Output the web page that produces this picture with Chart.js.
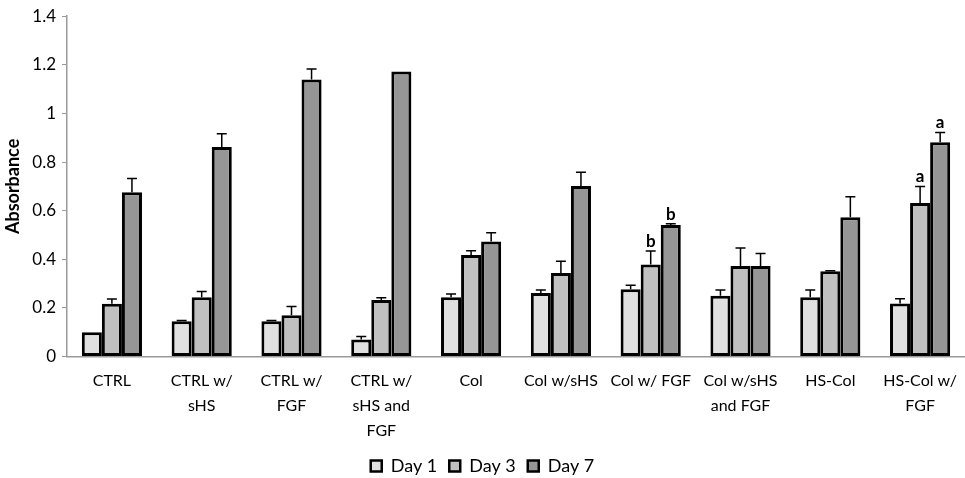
<!DOCTYPE html>
<html>
<head>
<meta charset="utf-8">
<script src="https://cdn.jsdelivr.net/npm/chart.js@4/dist/chart.umd.min.js"></script>
<style>
  html, body { margin: 0; padding: 0; background: #fff; }
  #wrap { width: 965px; height: 478px; position: relative; }
</style>
</head>
<body>
<div id="wrap"><canvas id="chart"></canvas></div>
<script>
const categories = [
    ['CTRL'], ['CTRL w/', 'sHS'], ['CTRL w/', 'FGF'], ['CTRL w/', 'sHS and', 'FGF'],
    ['Col'], ['Col w/sHS'], ['Col w/ FGF'], ['Col w/sHS', 'and FGF'], ['HS-Col'], ['HS-Col w/', 'FGF']
];
const day1 = [0.100, 0.145, 0.145, 0.070, 0.244, 0.262, 0.277, 0.250, 0.244, 0.218];
const day3 = [0.217, 0.244, 0.170, 0.233, 0.418, 0.344, 0.379, 0.373, 0.351, 0.632];
const day7 = [0.676, 0.862, 1.140, 1.173, 0.473, 0.702, 0.541, 0.373, 0.573, 0.882];
const err1 = [0.000, 0.003, 0.003, 0.013, 0.013, 0.012, 0.016, 0.024, 0.030, 0.020];
const err3 = [0.020, 0.024, 0.036, 0.009, 0.017, 0.048, 0.055, 0.074, 0.002, 0.068];
const err7 = [0.056, 0.055, 0.043, 0.000, 0.036, 0.056, 0.005, 0.051, 0.084, 0.040];
const mark3 = ['', '', '', '', '', '', 'b', '', '', 'a'];
const mark7 = ['', '', '', '', '', '', 'b', '', '', 'a'];
const yTicks = [0, 0.2, 0.4, 0.6, 0.8, 1, 1.2, 1.4];

const errors = [err1, err3, err7];
const marks = [null, mark3, mark7];

// error bars (upper only) and significance letters
const errorBars = {
    id: 'errorBars',
    afterDatasetsDraw(chart) {
        const ctx = chart.ctx;
        const y = chart.scales.y;
        ctx.save();
        chart.data.datasets.forEach((ds, di) => {
            const meta = chart.getDatasetMeta(di);
            meta.data.forEach((bar, i) => {
                const top = y.getPixelForValue(ds.data[i] + errors[di][i]);
                if (errors[di][i] > 0) {
                    ctx.strokeStyle = '#000';
                    ctx.lineWidth = 1.5;
                    ctx.beginPath();
                    ctx.moveTo(bar.x, bar.y);
                    ctx.lineTo(bar.x, top);
                    ctx.moveTo(bar.x - 5, top);
                    ctx.lineTo(bar.x + 5, top);
                    ctx.stroke();
                }
                if (marks[di] && marks[di][i]) {
                    ctx.fillStyle = '#000';
                    ctx.font = 'bold 17px Lato';
                    ctx.textAlign = 'center';
                    ctx.textBaseline = 'bottom';
                    ctx.fillText(marks[di][i], bar.x, top - 1);
                }
            });
        });
        ctx.restore();
    }
};

const barStyle = { borderColor: '#000', borderWidth: 3, borderSkipped: false };

new Chart(document.getElementById('chart'), {
    type: 'bar',
    data: {
        labels: categories,
        datasets: [
            { label: 'Day 1', data: day1, backgroundColor: '#e0e0e0', ...barStyle },
            { label: 'Day 3', data: day3, backgroundColor: '#c0c0c0', ...barStyle },
            { label: 'Day 7', data: day7, backgroundColor: '#969696', ...barStyle }
        ]
    },
    options: {
        responsive: true,
        maintainAspectRatio: false,
        animation: false,
        categoryPercentage: 0.67,
        barPercentage: 1.0,
        layout: { padding: { top: 7, right: 0, bottom: -7, left: 0 } },
        plugins: {
            tooltip: { enabled: false },
            legend: {
                position: 'bottom',
                labels: {
                    boxWidth: 11,
                    boxHeight: 11,
                    padding: 12,
                    color: '#000',
                    font: { family: 'Lato', size: 18 },
                    generateLabels(chart) {
                        return chart.data.datasets.map((ds, i) => ({
                            text: ds.label,
                            fillStyle: ds.backgroundColor,
                            strokeStyle: '#000',
                            lineWidth: 2.5,
                            datasetIndex: i
                        }));
                    }
                }
            }
        },
        scales: {
            x: {
                afterFit(scale) { scale.height -= 2; },
                grid: { display: false },
                border: { color: '#9a9a9a', width: 1.5 },
                ticks: {
                    color: '#000',
                    font: { family: 'Lato', size: 16, lineHeight: 1.55 },
                    padding: 4,
                    maxRotation: 0,
                    autoSkip: false
                }
            },
            y: {
                min: 0,
                max: 1.4,
                afterFit(scale) { scale.width = 67; },
                afterBuildTicks(scale) { scale.ticks = yTicks.map(v => ({ value: v })); },
                grid: { drawOnChartArea: false, drawTicks: true, tickLength: 5, color: '#9a9a9a' },
                border: { color: '#9a9a9a', width: 1.5 },
                title: {
                    display: true,
                    text: 'Absorbance',
                    color: '#000',
                    font: { family: 'Lato', size: 18, weight: 'bold' },
                    padding: { top: 2, bottom: 0 }
                },
                ticks: {
                    color: '#000',
                    font: { family: 'Lato', size: 17 },
                    padding: 6,
                    callback: v => String(Math.round(v * 10) / 10)
                }
            }
        }
    },
    plugins: [errorBars]
});
</script>
</body>
</html>
